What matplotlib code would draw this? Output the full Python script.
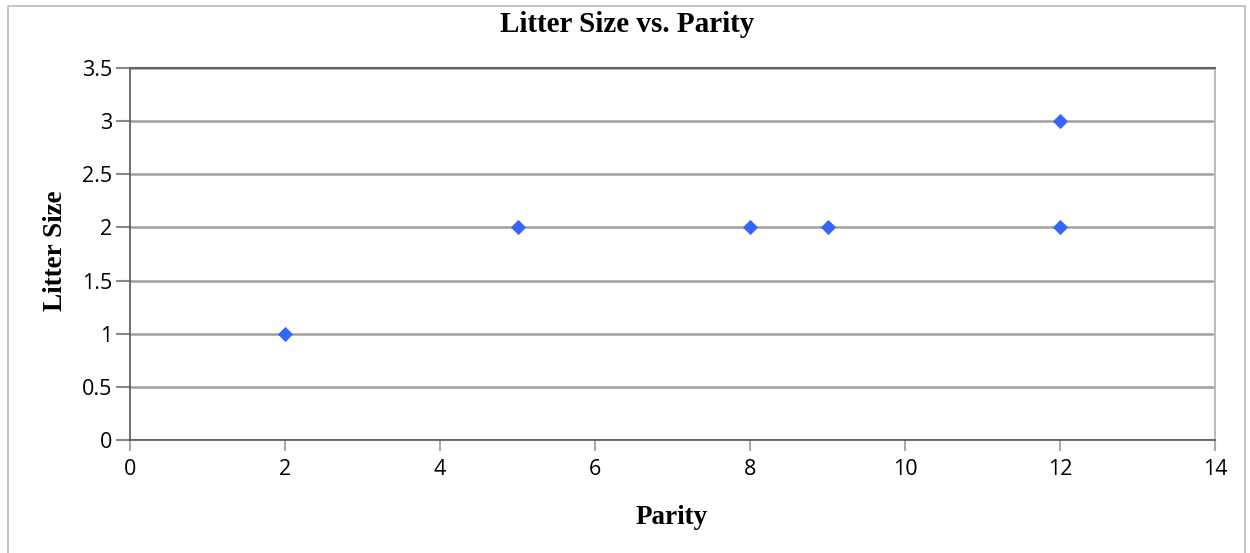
import matplotlib
matplotlib.use("Agg")
import matplotlib.pyplot as plt
from matplotlib.patches import Rectangle

# Data
parity = [2, 5, 8, 9, 12, 12]
litter_size = [1, 2, 2, 2, 3, 2]

x_ticks = [0, 2, 4, 6, 8, 10, 12, 14]
y_ticks = [0, 0.5, 1, 1.5, 2, 2.5, 3, 3.5]

fig = plt.figure(figsize=(12.5, 5.53), dpi=100)
ax = fig.add_axes([0.104, 0.2043, 0.868, 0.6727])

# outer frame around the whole chart
fig.patches.append(Rectangle((0.006, -0.05), 0.99, 1.04, transform=fig.transFigure,
                             fill=False, edgecolor='#bbbbbb', linewidth=1.2))

ax.scatter(parity, litter_size, marker='D', s=60, color='#3366ff', zorder=3,
           linewidths=0)

ax.set_xlim(0, 14)
ax.set_ylim(0, 3.5)
ax.set_xticks(x_ticks)
ax.set_yticks(y_ticks)
ax.set_xticklabels([str(v) for v in x_ticks])
ax.set_yticklabels(['0', '0.5', '1', '1.5', '2', '2.5', '3', '3.5'])

ax.grid(axis='y', color='#a0a0a0', linewidth=1.8, zorder=1)
ax.set_axisbelow(True)

for side in ['left', 'bottom']:
    ax.spines[side].set_color('#555555')
    ax.spines[side].set_linewidth(1.2)
ax.spines['top'].set_color('#666666')
ax.spines['top'].set_linewidth(1.5)
ax.spines['right'].set_color('#bbbbbb')
ax.spines['right'].set_linewidth(1.5)

ax.tick_params(axis='y', length=10, color='#888888', width=1.5, labelsize=15.5,
               pad=3)
ax.tick_params(axis='x', length=8, color='#aaaaaa', width=1.5, labelsize=15.5,
               pad=6)
for lab in ax.get_xticklabels() + ax.get_yticklabels():
    lab.set_family('Open Sans')

serif = {'family': 'Liberation Serif', 'weight': 'bold'}
fig.text(0.502, 0.955, 'Litter Size vs. Parity', fontsize=21, ha='center',
         va='center', **serif)
fig.text(0.5376, 0.065, 'Parity', fontsize=19.5, ha='center', va='center',
         **serif)
fig.text(0.044, 0.546, 'Litter Size', fontsize=19.5, ha='center', va='center',
         rotation=90, **serif)

fig.savefig('out.png', dpi=100)
